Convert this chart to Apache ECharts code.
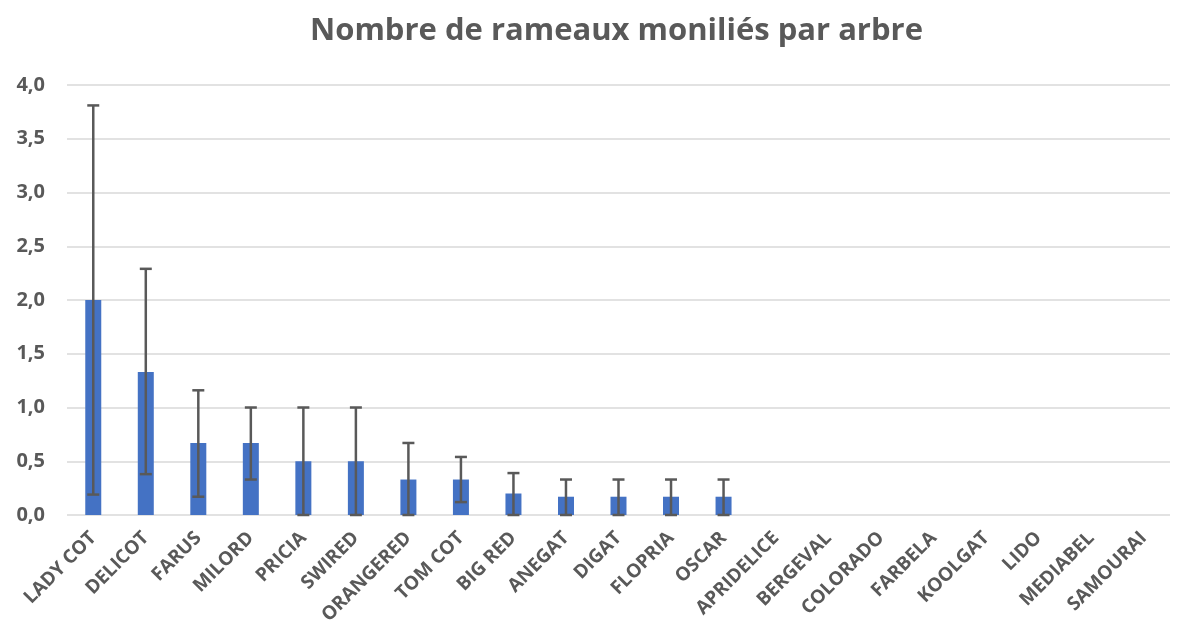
<!DOCTYPE html>
<html>
<head>
<meta charset="utf-8">
<script src="https://cdn.jsdelivr.net/npm/echarts@6/dist/echarts.min.js"></script>
<style>
  html, body { margin: 0; padding: 0; background: #fff; }
  #chart { width: 1182px; height: 631px; }
</style>
</head>
<body>
<div id="chart"></div>
<script>
const categories = ['LADY COT', 'DELICOT', 'FARUS', 'MILORD', 'PRICIA', 'SWIRED', 'ORANGERED', 'TOM COT',
  'BIG RED', 'ANEGAT', 'DIGAT', 'FLOPRIA', 'OSCAR', 'APRIDELICE', 'BERGEVAL', 'COLORADO', 'FARBELA',
  'KOOLGAT', 'LIDO', 'MEDIABEL', 'SAMOURAI'];
const means = [2.0, 1.33, 0.67, 0.67, 0.5, 0.5, 0.33, 0.33, 0.2, 0.17, 0.17, 0.17, 0.17, 0, 0, 0, 0, 0, 0, 0, 0];
const errLow = [0.19, 0.38, 0.17, 0.33, 0, 0, 0, 0.12, 0, 0, 0, 0, 0, null, null, null, null, null, null, null, null];
const errHigh = [3.81, 2.29, 1.16, 1.0, 1.0, 1.0, 0.67, 0.54, 0.39, 0.33, 0.33, 0.33, 0.33, null, null, null, null, null, null, null, null];
const yTicks = { min: 0, max: 4, step: 0.5 };

const textColor = '#595959';
const font = 'Open Sans';

const chart = echarts.init(document.getElementById('chart'));

const errData = categories
  .map((c, i) => [i, errLow[i], errHigh[i]])
  .filter((d) => d[1] !== null);

chart.setOption({
  animation: false,
  title: {
    text: 'Nombre de rameaux moniliés par arbre',
    left: 305,
    top: 11,
    textStyle: { fontFamily: font, fontSize: 31, fontWeight: 'bold', color: textColor },
  },
  grid: { left: 67, right: 12, top: 85, bottom: 116 },
  xAxis: {
    type: 'category',
    data: categories,
    axisLine: { show: false },
    axisTick: { show: false },
    axisLabel: {
      rotate: 45,
      interval: 0,
      margin: 20,
      color: textColor,
      fontFamily: font,
      fontSize: 19,
      fontWeight: 'bold',
    },
  },
  yAxis: {
    type: 'value',
    min: yTicks.min,
    max: yTicks.max,
    interval: yTicks.step,
    axisLine: { show: false },
    axisTick: { show: false },
    splitLine: { lineStyle: { color: '#d9d9d9', width: 1.5 } },
    axisLabel: {
      color: textColor,
      fontFamily: font,
      fontSize: 20,
      fontWeight: 'bold',
      margin: 22,
      formatter: (v) => v.toFixed(1).replace('.', ','),
    },
  },
  series: [
    {
      type: 'bar',
      data: means,
      barWidth: 16,
      itemStyle: { color: '#4472C4' },
    },
    {
      type: 'custom',
      data: errData,
      z: 10,
      renderItem: (params, api) => {
        const i = api.value(0);
        const lo = api.coord([i, api.value(1)]);
        const hi = api.coord([i, api.value(2)]);
        const half = 6;
        const style = { stroke: '#595959', lineWidth: 2.5 };
        return {
          type: 'group',
          children: [
            { type: 'line', shape: { x1: lo[0], y1: lo[1], x2: hi[0], y2: hi[1] }, style },
            { type: 'line', shape: { x1: hi[0] - half, y1: hi[1], x2: hi[0] + half, y2: hi[1] }, style },
            { type: 'line', shape: { x1: lo[0] - half, y1: lo[1], x2: lo[0] + half, y2: lo[1] }, style },
          ],
        };
      },
    },
  ],
});
</script>
</body>
</html>
